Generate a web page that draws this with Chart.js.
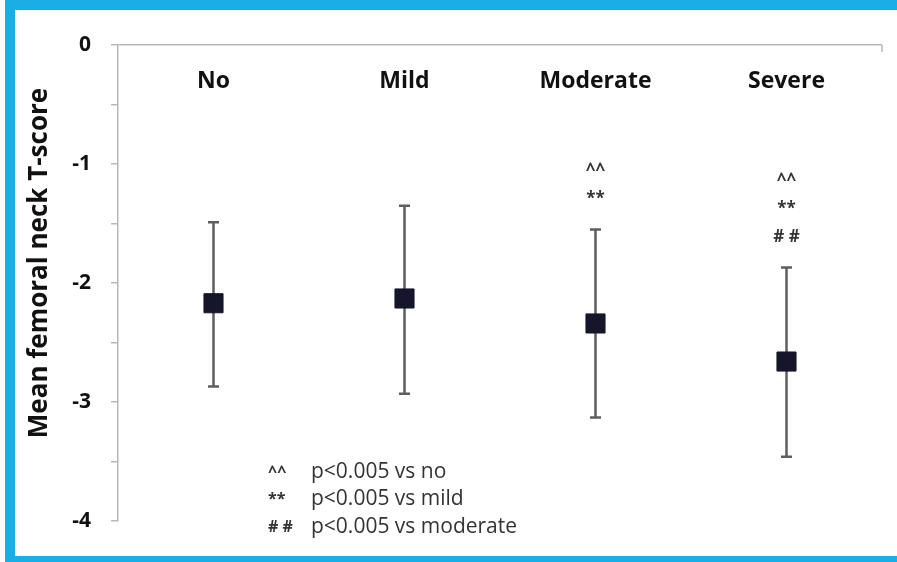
<!DOCTYPE html>
<html>
<head>
<meta charset="utf-8">
<script src="https://cdn.jsdelivr.net/npm/chart.js@4"></script>
<style>
  body { margin: 0; background: #fff; overflow: hidden; }
  #box {
    position: absolute; left: 5px; top: 0; width: 892px; height: 562px;
    box-sizing: border-box; border-left: 10px solid #1aaee6;
    border-top: 10px solid #1aaee6; border-bottom: 6px solid #1aaee6;
  }
  #wrap { position: relative; width: 882px; height: 546px; }
</style>
</head>
<body>
<div id="box"><div id="wrap"><canvas id="myChart"></canvas></div></div>
<script>
var groups = ["No", "Mild", "Moderate", "Severe"];
var means = [-2.17, -2.13, -2.34, -2.66];
var errUp = [-1.49, -1.35, -1.55, -1.87];
var errDown = [-2.87, -2.93, -3.13, -3.46];
var sigMarks = [[], [], ["^^", "**"], ["^^", "**", "# #"]];
var notes = [["^^", "p<0.005 vs no"], ["**", "p<0.005 vs mild"], ["# #", "p<0.005 vs moderate"]];
var yTitle = "Mean femoral neck T-score";

var font = "'Open Sans', 'Liberation Sans', sans-serif";

// error bars, labels, significance marks and footnote
var extras = {
  id: 'extras',
  beforeDatasetsDraw: function(chart) {
    var c = chart.ctx, x = chart.scales.x, y = chart.scales.y;
    c.save();
    c.strokeStyle = '#5e5e5e';
    c.lineWidth = 2.5;
    for (var i = 0; i < groups.length; i++) {
      var px = x.getPixelForValue(i);
      var top = y.getPixelForValue(errUp[i]);
      var bot = y.getPixelForValue(errDown[i]);
      c.beginPath();
      c.moveTo(px, top); c.lineTo(px, bot);
      c.moveTo(px - 5.5, top); c.lineTo(px + 5.5, top);
      c.moveTo(px - 5.5, bot); c.lineTo(px + 5.5, bot);
      c.stroke();
    }
    // end tick of the category axis at the top
    c.strokeStyle = '#b8b8b8';
    c.lineWidth = 1.5;
    c.beginPath();
    c.moveTo(chart.chartArea.right, chart.chartArea.top);
    c.lineTo(chart.chartArea.right, chart.chartArea.top + 7);
    c.stroke();
    c.restore();
  },
  afterDraw: function(chart) {
    var c = chart.ctx, x = chart.scales.x, y = chart.scales.y;
    var area = chart.chartArea;
    c.save();
    c.fillStyle = '#111';
    c.textAlign = 'center';
    c.textBaseline = 'middle';
    c.font = "bold 23px " + font;
    for (var i = 0; i < groups.length; i++) {
      c.fillText(groups[i], x.getPixelForValue(i), area.top + 36);
    }
    // y title
    c.save();
    c.translate(area.left - 78, area.top + 218);
    c.rotate(-Math.PI / 2);
    c.font = "bold 26px " + font;
    c.fillText(yTitle, 0, 0);
    c.restore();

    c.fillStyle = '#333';
    c.font = "bold 17px " + font;
    for (var i = 0; i < groups.length; i++) {
      var top = y.getPixelForValue(errUp[i]);
      var m = sigMarks[i];
      for (var k = 0; k < m.length; k++) {
        c.fillText(m[k], x.getPixelForValue(i), top - 30 - (m.length - 1 - k) * 28);
      }
    }
    c.textAlign = 'left';
    for (var j = 0; j < notes.length; j++) {
      var ly = area.bottom - 49 + j * 27.5;
      c.font = "bold 16px " + font;
      c.fillText(notes[j][0], 253, ly);
      c.font = "21px " + font;
      c.fillText(notes[j][1], 296, ly);
    }
    c.restore();
  }
};

new Chart(document.getElementById("myChart"), {
  type: 'line',
  data: {
    labels: groups,
    datasets: [{
      data: means,
      showLine: false,
      pointStyle: 'rect',
      pointRadius: 13.5,
      pointHoverRadius: 13.5,
      backgroundColor: '#15152b',
      borderColor: '#15152b',
      borderWidth: 1
    }]
  },
  options: {
    responsive: true,
    maintainAspectRatio: false,
    animation: false,
    events: [],
    layout: { padding: { left: 0, right: 15, top: 35, bottom: 35 } },
    plugins: { legend: { display: false }, tooltip: { enabled: false } },
    scales: {
      x: { type: 'category', offset: true, display: false },
      y: {
        min: -4, max: 0,
        afterFit: function(scale) { scale.width = 103; },
        border: { color: '#b8b8b8', width: 1.5 },
        grid: {
          drawOnChartArea: true,
          color: function(ctx) { return ctx.tick && ctx.tick.value === 0 ? '#b8b8b8' : 'rgba(0,0,0,0)'; },
          lineWidth: 1.5,
          tickColor: '#b8b8b8',
          tickLength: 7
        },
        ticks: {
          stepSize: 0.5,
          autoSkip: false,
          padding: 20,
          color: '#111',
          font: { family: font, size: 21, weight: 'bold' },
          callback: function(v) { return Number.isInteger(v) ? String(v) : ''; }
        }
      }
    }
  },
  plugins: [extras]
});
</script>
</body>
</html>
